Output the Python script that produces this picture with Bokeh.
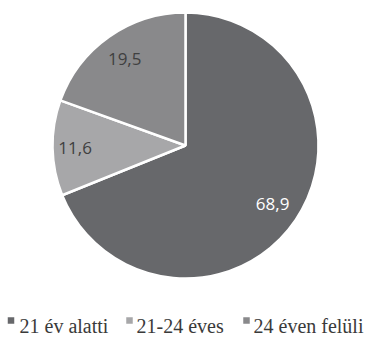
import math
from bokeh.plotting import figure
from bokeh.models import Range1d, ColumnDataSource
from bokeh.core.properties import value
from bokeh.embed import file_html
from bokeh.resources import INLINE

categories = ["21 év alatti", "21-24 éves", "24 éven felüli"]
values = [68.9, 11.6, 19.5]
labels = ["68,9", "11,6", "19,5"]
colors = ["#67686b", "#a7a7a9", "#89898b"]
label_colors = ["#ffffff", "#404040", "#404040"]
label_r = [0.79, 0.83, 0.795]

W, H = 370, 348
cx, cy, R = 185, 348 - 145, 133

total = sum(values)
starts, ends, lx, ly = [], [], [], []
cum = 0.0
for v, lr in zip(values, label_r):
    a0 = math.pi / 2 - 2 * math.pi * cum / total
    cum += v
    a1 = math.pi / 2 - 2 * math.pi * cum / total
    starts.append(a0)
    ends.append(a1)
    mid = (a0 + a1) / 2
    lx.append(cx + R * lr * math.cos(mid))
    ly.append(cy + R * lr * math.sin(mid))

src = ColumnDataSource(dict(start=starts, end=ends, color=colors, lx=lx, ly=ly,
                            label=labels, lcolor=label_colors, cat=categories))

p = figure(width=W, height=H, output_backend="svg", toolbar_location=None,
           x_range=Range1d(0, W), y_range=Range1d(0, H), min_border=0)
p.axis.visible = False
p.grid.visible = False
p.outline_line_color = None
p.background_fill_color = "white"

p.wedge(x=cx, y=cy, radius=R, start_angle="start", end_angle="end", direction="clock",
        fill_color="color", line_color="white", line_width=2.5, source=src)
p.text(x="lx", y="ly", text="label", text_color="lcolor", text_align="center",
       text_baseline="middle", text_font=value("Open Sans"), text_font_size="17px", source=src)

# legend
sq_y = H - 320
txt_y = H - 325
sq_x = [10.5, 129, 246]
txt_x = [19, 136, 253]
p.scatter(x=sq_x, y=[sq_y] * 3, marker="square", size=6.5, color=colors, line_color=None)
p.text(x=txt_x, y=[txt_y] * 3, text=categories, text_color="#3a3a3a", text_align="left",
       text_baseline="alphabetic", text_font=value("Liberation Serif"), text_font_size="20px")

open("out.html", "w").write(file_html(p, INLINE))
